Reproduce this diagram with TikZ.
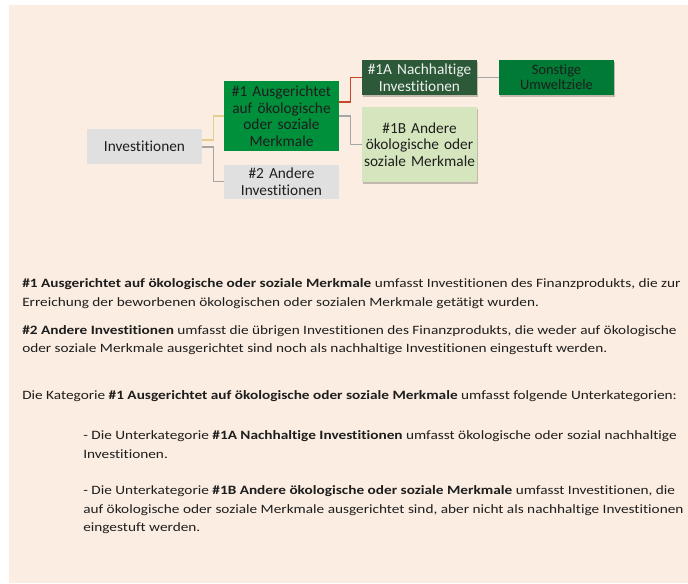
\documentclass[tikz,border=0pt]{standalone}
\usepackage{fontspec}
\setmainfont{Carlito}[Ligatures=NoCommon]
\newfontfamily\widefont{Carlito}[Ligatures=NoCommon, FakeStretch=1.2]
\usepackage{xcolor}
\usepackage{tikz}
\usetikzlibrary{positioning, shadows}
\definecolor{bgpeach}{RGB}{251,237,225}
\definecolor{boxgrey}{RGB}{224,224,224}
\definecolor{midgreen}{RGB}{0,143,58}
\definecolor{darkgreen}{RGB}{44,90,56}
\definecolor{envgreen}{RGB}{0,122,52}
\definecolor{palegreen}{RGB}{213,230,190}
\definecolor{txtdark}{RGB}{30,30,30}
\definecolor{lnyellow}{RGB}{226,208,140}
\definecolor{lnred}{RGB}{200,70,40}
\definecolor{lngrey}{RGB}{166,166,166}
\tikzset{
  catbox/.style={rectangle, inner sep=1pt, align=center,
    minimum width=86.25pt, text width=84pt,
    font=\fontsize{11.5}{12.4}\selectfont, text=txtdark},
  greybox/.style={catbox, fill=boxgrey},
  shadowed/.style={drop shadow={shadow xshift=0.9pt, shadow yshift=-1.3pt,
    opacity=0.22, fill=black}},
  link/.style={line width=0.9pt, color=lngrey},
  bodytext/.style={anchor=west, inner sep=0pt, align=left,
    font=\widefont\fontsize{9.55}{13.8}\selectfont, text=txtdark}
}

\begin{document}
\begin{tikzpicture}[x=0.75pt, y=-0.75pt]
  \useasboundingbox (0,0) rectangle (688,583);

  % Background panel
  \fill[bgpeach] (9,5) rectangle (688,583);

  % Category boxes
  \node[greybox, minimum height=26.25pt] (inv) at (144.5,146.5) {Investitionen};
  \node[catbox, fill=midgreen, minimum height=52.5pt] (cat1) at (281.5,116)
    {\#1 Ausgerichtet\\auf ökologische\\oder soziale\\Merkmale};
  \node[greybox, minimum height=25.5pt] (cat2) at (281.5,181.5)
    {\#2 Andere\\Investitionen};
  \node[catbox, shadowed, fill=darkgreen, text=white!94!black, minimum height=26.25pt]
    (sub1a) at (419.5,77.5) {\#1A Nachhaltige\\Investitionen};
  \node[catbox, shadowed, fill=palegreen, minimum height=56.25pt] (sub1b) at (419.5,144.5)
    {\#1B Andere\\ökologische oder\\soziale Merkmale};
  \node[catbox, shadowed, fill=envgreen, minimum height=26.25pt,
    font=\fontsize{10.8}{11.3}\selectfont] (env) at (556.5,77.5) {Sonstige\\Umweltziele};

  % Elbow connectors
  \draw[link, color=lnyellow] ([yshift=4.9pt]inv.east) -- ++(11,0) |- (cat1.west);
  \draw[link] ([yshift=-0.4pt]inv.east) -- ++(11,0) |- (cat2.west);
  \draw[link, color=lnred] ([yshift=10.5pt]cat1.east) -- ++(11,0) |- (sub1a.west);
  \draw[link] (cat1.east) -- ++(11,0) |- (sub1b.west);
  \draw[link] (sub1a.east) -- (env.west);

  % Explanatory text
  \node[bodytext] (txt1) at (22,293.5)
    {\textbf{\#1 Ausgerichtet auf ökologische oder soziale Merkmale} umfasst Investitionen des Finanzprodukts, die zur\\
     Erreichung der beworbenen ökologischen oder sozialen Merkmale getätigt wurden.};
  \node[bodytext] (txt2) at (22,340)
    {\textbf{\#2 Andere Investitionen} umfasst die übrigen Investitionen des Finanzprodukts, die weder auf ökologische\\
     oder soziale Merkmale ausgerichtet sind noch als nachhaltige Investitionen eingestuft werden.};
  \node[bodytext] (txt3) at (22,396)
    {Die Kategorie \textbf{\#1 Ausgerichtet auf ökologische oder soziale Merkmale} umfasst folgende Unterkategorien:};
  \node[bodytext] (txt4) at (83,444.5)
    {- Die Unterkategorie \textbf{\#1A Nachhaltige Investitionen} umfasst ökologische oder sozial nachhaltige\\
     Investitionen.};
  \node[bodytext] (txt5) at (83,510)
    {- Die Unterkategorie \textbf{\#1B Andere ökologische oder soziale Merkmale} umfasst Investitionen, die\\
     auf ökologische oder soziale Merkmale ausgerichtet sind, aber nicht als nachhaltige Investitionen\\
     eingestuft werden.};
\end{tikzpicture}
\end{document}
